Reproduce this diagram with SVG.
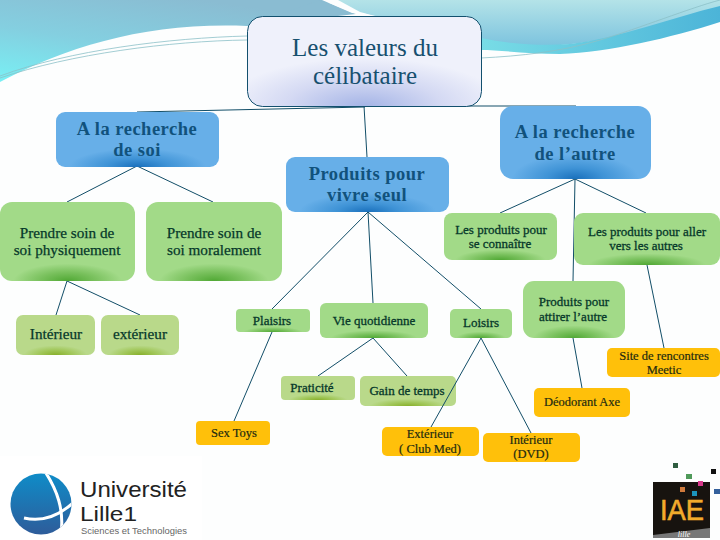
<svg xmlns="http://www.w3.org/2000/svg" width="720" height="540" viewBox="0 0 720 540">
<style>
text{font-family:"Liberation Serif","Times New Roman",serif;text-anchor:middle}
.t1{fill:#17506f;font-size:25px}
.t2{fill:#11527c;font-size:18.5px;font-weight:bold;letter-spacing:.5px}
.t3{fill:#06382a;font-size:15.2px;stroke:#06382a;stroke-width:.25px}
.t4{fill:#06382a;font-size:13px;stroke:#06382a;stroke-width:.3px}
.t5{fill:#1d2b10;font-size:12.5px;stroke:#1d2b10;stroke-width:.2px}
.c line{stroke:#124e68;stroke-width:1}
.logo{font-family:"Liberation Sans",Arial,sans-serif;text-anchor:start}
</style>
<defs>
<linearGradient id="sky" x1="0.6" y1="0" x2="0" y2="1"><stop offset="0" stop-color="#8abcd2"/><stop offset=".5" stop-color="#84cfe0"/><stop offset="1" stop-color="#78f0f4"/></linearGradient>
<linearGradient id="sky2" x1="0" y1="0" x2="0" y2="1"><stop offset="0" stop-color="#b4e3e8"/><stop offset="1" stop-color="#7cc3de"/></linearGradient>
<linearGradient id="sky3" x1="0" y1="0" x2="1" y2="0"><stop offset="0" stop-color="#78dce6"/><stop offset="1" stop-color="#4cb4d8"/></linearGradient>
<linearGradient id="ball" x1="0" y1="0" x2="0" y2="1"><stop offset="0" stop-color="#0f8cc8"/><stop offset="1" stop-color="#2e5c9a"/></linearGradient>
<radialGradient id="root" cx=".5" cy="1" r=".6" gradientTransform="translate(0 .1) scale(1 .9)"><stop offset="0" stop-color="#a4b4e6"/><stop offset=".55" stop-color="#d4d9f3"/><stop offset="1" stop-color="#eff1fb"/></radialGradient>
<radialGradient id="blue" cx=".5" cy="1" r=".42" gradientTransform="translate(0 .2) scale(1 .8)"><stop offset="0" stop-color="#1a70bc"/><stop offset=".45" stop-color="#3f93d6"/><stop offset="1" stop-color="#67afe8"/></radialGradient>
<radialGradient id="green" cx=".5" cy="1" r=".4" gradientTransform="translate(0 .45) scale(1 .55)"><stop offset="0" stop-color="#50a834"/><stop offset=".5" stop-color="#78c05c"/><stop offset="1" stop-color="#a2da88"/></radialGradient>
<radialGradient id="olive" cx=".5" cy="1" r=".4" gradientTransform="translate(0 .4) scale(1 .6)"><stop offset="0" stop-color="#88b02c"/><stop offset=".5" stop-color="#a0c658"/><stop offset="1" stop-color="#b9d98a"/></radialGradient>
<clipPath id="cl"><circle cx="41" cy="504" r="30.5"/></clipPath>
</defs>
<rect width="720" height="540" fill="#fdfefe"/>
<g id="background">
<path d="M0 0H480V38L360 12V0Z" fill="#8abcd2"/>
<path d="M0 0H338L247 26C150 22 70 45 0 82Z" fill="url(#sky)"/>
<path d="M322 0L356 14L246 26L320 0Z" fill="#8abcd2"/>
<path d="M322 0H338L372 16L352 13Z" fill="#fdfefe"/>
<path d="M338 0H720V8C660 28 600 44 545 46C500 45 470 40 360 12Z" fill="url(#sky2)"/>
<path d="M481 38C510 44 540 46 570 44C620 38 670 18 720 6V22C670 38 610 52 560 54C530 54 500 50 481 50Z" fill="url(#sky3)"/>
<path d="M0 76C70 50 170 38 247 36M0 78C70 54 170 41 247 40M481 58C520 56 560 52 600 40S690 8 720 0" fill="none" stroke="#8cc0c8" stroke-width=".8"/>
</g>
<g id="n-gain"><rect x="360" y="376" width="96" height="30" rx="5" fill="url(#olive)"/><text class="t4" x="407" y="395">Gain de temps</text></g>
<g id="connectors" class="c">
<line x1="365" y1="107" x2="137" y2="112"/>
<line x1="365" y1="106" x2="576" y2="106"/>
<line x1="364" y1="106" x2="367" y2="157"/>
<line x1="137" y1="166" x2="67" y2="202"/>
<line x1="137" y1="166" x2="213" y2="202"/>
<line x1="368" y1="212" x2="272" y2="309"/>
<line x1="368" y1="212" x2="373" y2="303"/>
<line x1="368" y1="212" x2="481" y2="309"/>
<line x1="575" y1="179" x2="500" y2="213"/>
<line x1="575" y1="179" x2="646" y2="213"/>
<line x1="575" y1="179" x2="573" y2="281"/>
<line x1="67" y1="281" x2="56" y2="315"/>
<line x1="67" y1="281" x2="140" y2="315"/>
<line x1="272" y1="332" x2="234" y2="421"/>
<line x1="373" y1="338" x2="318" y2="376"/>
<line x1="373" y1="338" x2="407" y2="376"/>
<line x1="481" y1="338" x2="431" y2="427"/>
<line x1="481" y1="338" x2="531" y2="433"/>
<line x1="573" y1="338" x2="582" y2="388"/>
<line x1="647" y1="265" x2="664" y2="348"/>
</g>
<g id="n-root"><rect x="247.5" y="16.5" width="234" height="90" rx="15" fill="url(#root)" stroke="#12506e" stroke-width="1"/><text class="t1" x="365" y="56">Les valeurs du</text><text class="t1" x="365" y="84">célibataire</text></g>
<g id="n-soi"><rect x="56" y="112" width="163" height="55" rx="9" fill="url(#blue)"/><text class="t2" x="137" y="135">A la recherche</text><text class="t2" x="137" y="156">de soi</text></g>
<g id="n-seul"><rect x="286" y="157" width="163" height="55" rx="9" fill="url(#blue)"/><text class="t2" x="367" y="180">Produits pour</text><text class="t2" x="367" y="201">vivre seul</text></g>
<g id="n-autre"><rect x="500" y="106" width="151" height="73" rx="13" fill="url(#blue)"/><text class="t2" x="575" y="138">A la recherche</text><text class="t2" x="575" y="160">de l’autre</text></g>
<g id="n-phys"><rect x="0" y="202" width="135" height="79" rx="12" fill="url(#green)"/><text class="t3" x="67" y="238">Prendre soin de</text><text class="t3" x="67" y="255">soi physiquement</text></g>
<g id="n-moral"><rect x="146" y="202" width="136" height="79" rx="12" fill="url(#green)"/><text class="t3" x="214" y="238">Prendre soin de</text><text class="t3" x="214" y="255">soi moralement</text></g>
<g id="n-connaitre"><rect x="444" y="213" width="113" height="47" rx="8" fill="url(#green)"/><text class="t4" x="501" y="234">Les produits pour</text><text class="t4" x="500" y="248">se connaître</text></g>
<g id="n-aller"><rect x="574" y="213" width="146" height="52" rx="9" fill="url(#green)"/><text class="t4" x="647" y="236">Les produits pour aller</text><text class="t4" x="646" y="250">vers les autres</text></g>
<g id="n-int1"><rect x="16" y="315" width="79" height="40" rx="7" fill="url(#olive)"/><text class="t3" x="56" y="339">Intérieur</text></g>
<g id="n-ext1"><rect x="101" y="315" width="78" height="40" rx="7" fill="url(#olive)"/><text class="t3" x="140" y="339">extérieur</text></g>
<g id="n-plaisirs"><rect x="236" y="309" width="74" height="23" rx="4" fill="url(#green)"/><text class="t4" x="272" y="325">Plaisirs</text></g>
<g id="n-vie"><rect x="320" y="303" width="108" height="35" rx="6" fill="url(#green)"/><text class="t4" x="374" y="325">Vie quotidienne</text></g>
<g id="n-loisirs"><rect x="450" y="309" width="62" height="29" rx="5" fill="url(#green)"/><text class="t4" x="481" y="327">Loisirs</text></g>
<g id="n-attirer"><rect x="523" y="281" width="102" height="57" rx="11" fill="url(#green)"/><text class="t4" x="574" y="306">Produits pour</text><text class="t4" x="573" y="321">attirer l’autre</text></g>
<g id="n-praticite"><rect x="281" y="376" width="74" height="24" rx="4" fill="url(#olive)"/><text class="t4" x="312" y="392">Praticité</text></g>
<g id="n-sex"><rect x="196" y="421" width="74" height="24" rx="4" fill="#ffc00a"/><text class="t5" x="234" y="437">Sex Toys</text></g>
<g id="n-ext2"><rect x="382" y="427" width="97" height="29" rx="5" fill="#ffc00a"/><text class="t5" x="430" y="438">Extérieur</text><text class="t5" x="430" y="453">( Club Med)</text></g>
<g id="n-int2"><rect x="483" y="433" width="97" height="29" rx="5" fill="#ffc00a"/><text class="t5" x="531" y="444">Intérieur</text><text class="t5" x="531" y="458">(DVD)</text></g>
<g id="n-deo"><rect x="534" y="388" width="96" height="29" rx="5" fill="#ffc00a"/><text class="t5" x="582" y="406">Déodorant Axe</text></g>
<g id="n-site"><rect x="607" y="348" width="113" height="29" rx="5" fill="#ffc00a"/><text class="t5" x="664" y="360">Site de rencontres</text><text class="t5" x="664" y="374">Meetic</text></g>
<rect x="0" y="456" width="202" height="84" fill="#fff"/>
<g id="logo-lille">
<circle cx="41" cy="504" r="30.5" fill="url(#ball)"/>
<g clip-path="url(#cl)" fill="none" stroke="#fff"><path d="M44 470C56 488 66 510 60 540" stroke-width="3"/><path d="M24 518C42 522 60 516 76 500" stroke-width="3"/></g>
<text class="logo" x="80" y="497" font-size="22.5" fill="#222" textLength="107" lengthAdjust="spacingAndGlyphs">Université</text>
<text class="logo" x="80" y="521" font-size="21" fill="#222" textLength="57" lengthAdjust="spacingAndGlyphs">Lille1</text>
<text class="logo" x="81" y="534" font-size="9" fill="#666" textLength="106" lengthAdjust="spacingAndGlyphs">Sciences et Technologies</text>
</g>
<g id="logo-iae">
<rect x="653" y="482" width="57" height="56" fill="#17130f"/>
<path d="M653 538V535L710 528V538Z" fill="#777"/>
<text x="684" y="537" font-size="8" font-style="italic" fill="#fff">lille</text>
<text class="logo" x="660" y="520" font-size="29" fill="#f2ab2c" stroke="#f2ab2c" stroke-width=".6" textLength="44" lengthAdjust="spacingAndGlyphs">IAE</text>
<rect x="673" y="463" width="5" height="5" fill="#2f5d40"/><rect x="686" y="474" width="6" height="5" fill="#4f9a5a"/><rect x="711" y="469" width="5" height="5" fill="#111"/><rect x="698" y="481" width="5" height="5" fill="#d8388c"/><rect x="714" y="489" width="6" height="5" fill="#34609c"/><rect x="680" y="487" width="5" height="5" fill="#d07a3c"/><rect x="692" y="491" width="5" height="5" fill="#1c94bc"/>
</g>
</svg>
